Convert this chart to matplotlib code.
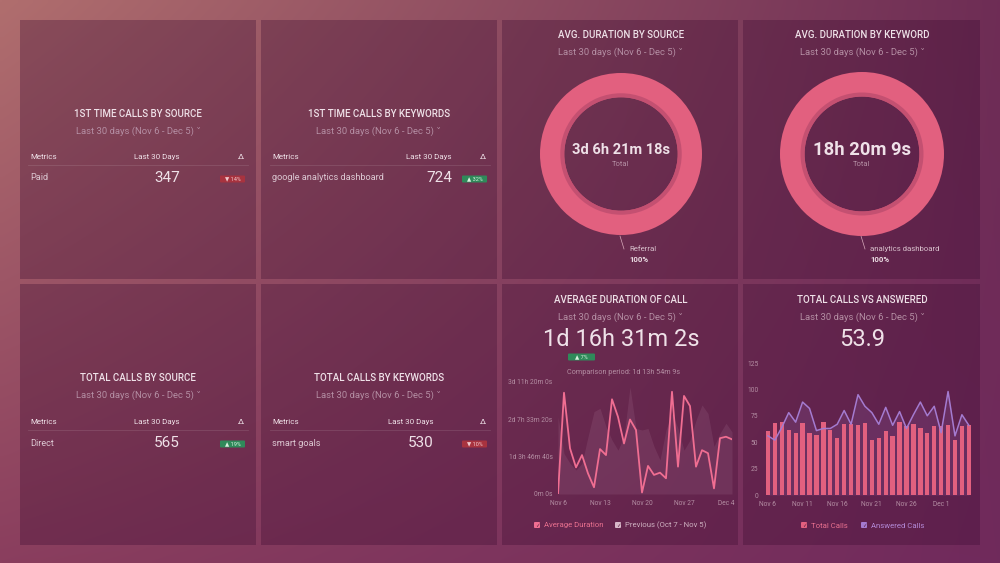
import numpy as np
import matplotlib.pyplot as plt
from matplotlib.patches import Rectangle, FancyBboxPatch

plt.rcParams['font.family'] = ['Roboto', 'DejaVu Sans']

W, H = 1000, 563

# ---- data ----
days = list(range(30))  # Nov 6 .. Dec 5

avg_duration_s = [0, 270600, 122000, 71000, 104000, 55000, 18000, 120000, 104000, 253000,
                  206000, 135000, 199000, 171000, 4000, 75000, 51000, 57000, 42000, 273000,
                  73000, 262000, 235000, 73000, 117000, 109000, 15000, 149000, 153000, 146000]
previous_s = [206000, 108000, 82000, 64000, 82000, 153000, 220000, 229000, 180000, 144000,
              117000, 153000, 286000, 175000, 171000, 175000, 127000, 91000, 171000, 215000,
              175000, 117000, 144000, 197000, 238000, 215000, 127000, 162000, 189000, 166000]
line_tick_pos = [0, 7, 14, 21, 28]
line_tick_labels = ['Nov 6', 'Nov 13', 'Nov 20', 'Nov 27', 'Dec 4']
dur_ticks = [0, 100000, 200000, 300000]
dur_tick_labels = ['0m 0s', '1d 3h 46m 40s', '2d 7h 33m 20s', '3d 11h 20m 0s']

total_calls = [61, 68, 69, 62, 59, 68, 59, 57, 69, 62, 54, 67, 67, 66, 68,
               52, 54, 61, 56, 69, 65, 67, 63, 59, 65, 65, 66, 52, 65, 66]
answered_calls = [56, 52, 64, 78, 69, 88, 82, 61, 63, 63, 67, 80, 67, 95, 84,
                  78, 67, 83, 66, 79, 63, 76, 88, 75, 84, 59, 98, 56, 76, 66]
bar_tick_pos = [0, 5, 10, 15, 20, 25]
bar_tick_labels = ['Nov 6', 'Nov 11', 'Nov 16', 'Nov 21', 'Nov 26', 'Dec 1']
calls_ticks = [0, 25, 50, 75, 100, 125]

donut_share = [100]

# colours
PINK = '#e2607f'
LINE_PINK = '#f06e92'
PURPLE = '#a47bd0'
TXT = '#efe1e8'
DIM = '#b48ea3'
GREEN = '#2f8a5a'
RED = '#a8333f'

fig = plt.figure(figsize=(10, 5.63), dpi=100)

# background gradient + panels in pixel coordinates
bg = fig.add_axes([0, 0, 1, 1])
tl, tr = np.array([176, 110, 110]), np.array([110, 45, 85])
bl, br = np.array([138, 62, 94]), np.array([112, 42, 92])
u = np.linspace(0, 1, 200)[None, :, None]
v = np.linspace(0, 1, 113)[:, None, None]
grad = (tl * (1 - u) * (1 - v) + tr * u * (1 - v) + bl * (1 - u) * v + br * u * v) / 255
bg.imshow(grad, extent=(0, W, H, 0), aspect='auto', interpolation='bilinear')
bg.set_xlim(0, W)
bg.set_ylim(H, 0)
bg.axis('off')

cols = [(20, 256), (261, 497), (502, 738), (743, 980)]
rows = [(20, 279), (284, 545)]
for y0, y1 in rows:
    for x0, x1 in cols:
        bg.add_patch(Rectangle((x0, y0), x1 - x0, y1 - y0, color='#3a0a30', alpha=0.32, lw=0))


def txt(x, y, s, size=5.5, color=TXT, ha='center', **kw):
    bg.text(x, y, s, fontsize=size, color=color, ha=ha, va='center', **kw)


def badge(x0, x1, y, s, color):
    bg.add_patch(FancyBboxPatch((x0, y - 3.5), x1 - x0, 7, boxstyle='round,pad=0,rounding_size=1',
                                color=color, lw=0))
    txt((x0 + x1) / 2, y, s, size=4, color='#d8f0df' if color == GREEN else '#f0c8cc')


def header(cx, y, title):
    txt(cx, y, title, size=7, weight='medium')
    txt(cx, y + 17, 'Last 30 days (Nov 6 - Dec 5) \u02c5', size=6.8, color=DIM)


def table(x_left, x_col, x_delta, y, name, value, delta, dcolor, col_w):
    txt(x_left, y, 'Metrics', size=5.8, ha='left')
    txt(x_col, y, 'Last 30 Days', size=5.8)
    txt(x_delta, y, '\u0394', size=6)
    bg.plot([x_left - 2, x_left + col_w], [y + 8, y + 8], color='#ffffff', alpha=0.12, lw=0.6)
    txt(x_left, y + 21, name, size=6.6, color='#dcc8d2', ha='left')
    txt(x_col + 10, y + 21, value, size=11)
    badge(x_delta - 21, x_delta + 4, y + 22, delta, dcolor)


# left panels: tables
header(138, 114, '1ST TIME CALLS BY SOURCE')
table(30, 157, 241, 157, 'Paid', '347', '\u25bc 14%', RED, 218)
header(379, 114, '1ST TIME CALLS BY KEYWORDS')
table(272, 429, 483, 157, 'google analytics dashboard', '724', '\u25b2 32%', GREEN, 218)
header(138, 378, 'TOTAL CALLS BY SOURCE')
table(30, 157, 241, 422, 'Direct', '565', '\u25b2 19%', GREEN, 218)
header(379, 378, 'TOTAL CALLS BY KEYWORDS')
table(272, 411, 483, 422, 'smart goals', '530', '\u25bc 10%', RED, 218)


def frac(x0, y0, x1, y1):
    return [x0 / W, 1 - y1 / H, (x1 - x0) / W, (y1 - y0) / H]


# donuts
def donut(cx, cy, r, title, center, center_size, label):
    header(cx, 35, title)
    ax = fig.add_axes(frac(cx - r, cy - r, cx + r, cy + r))
    ax.pie(donut_share, colors=[PINK], radius=1, startangle=90,
           wedgeprops=dict(width=0.3, lw=0))
    ax.pie(donut_share, colors=['#b84a6c'], radius=0.75, startangle=90,
           wedgeprops=dict(width=0.05, lw=0, alpha=0.7))
    ax.set_xlim(-1, 1)
    ax.set_ylim(-1, 1)
    ax.set_aspect('equal')
    ax.axis('off')
    txt(cx, cy - 4, center, size=center_size, weight='bold')
    txt(cx, cy + 10, 'Total', size=5.5, color=DIM)
    bg.plot([cx - 1, cx + 3], [cy + 82, cy + 95], color='#d8aabb', lw=0.5)
    txt(cx + 8, cy + 95, label, size=5.6, color='#d8c0cc', ha='left')
    txt(cx + 8, cy + 105, '100%', size=5.6, color='#ecdde4', ha='left', weight='bold')


donut(621, 154, 81, 'AVG. DURATION BY SOURCE', '3d 6h 21m 18s', 10.5, 'Referral')
donut(862, 154, 82, 'AVG. DURATION BY KEYWORD', '18h 20m 9s', 13.2, 'analytics dashboard')

# average duration line chart
header(621, 300, 'AVERAGE DURATION OF CALL')
txt(621, 340, '1d 16h 31m 2s', size=17)
badge(568, 595, 357, '\u25b2 7%', GREEN)
txt(624, 372, 'Comparison period: 1d 13h 54m 9s', size=5.2, color=DIM)

ax1 = fig.add_axes(frac(558, 381.7, 732, 494))
ax1.fill_between(days, previous_s, color='#c898b5', alpha=0.13, lw=0)
ax1.plot(days, avg_duration_s, color=LINE_PINK, lw=1.3)
ax1.set_xlim(0, 29)
ax1.set_ylim(0, 300000)
ax1.set_yticks(dur_ticks, dur_tick_labels)
ax1.set_xticks(line_tick_pos, line_tick_labels)
ax1.set_facecolor('none')
for s in ax1.spines.values():
    s.set_visible(False)
ax1.tick_params(length=0, labelsize=4.8, labelcolor=DIM, pad=4)

# legend for line chart
for x, c, lab, tc in [(537, LINE_PINK, 'Average Duration', '#e8708f'),
                      (618, '#d8b8c9', 'Previous (Oct 7 - Nov 5)', '#cdb0c0')]:
    bg.add_patch(FancyBboxPatch((x - 3, 522), 6, 6, boxstyle='round,pad=0,rounding_size=1', color=c, lw=0))
    bg.text(x, 525.3, '\u2713', fontsize=4, color='#5a2040', ha='center', va='center', family='DejaVu Sans')
    txt(x + 7, 525.5, lab, size=5.6, color=tc, ha='left')

# total calls vs answered
header(862, 300, 'TOTAL CALLS VS ANSWERED')
txt(862, 340, '53.9', size=17)

ax2 = fig.add_axes(frac(763.8, 363, 973, 495))
ax2.bar(days, total_calls, width=0.62, color=PINK, zorder=2)
ax2.fill_between(days, answered_calls, color=PURPLE, alpha=0.15, lw=0, zorder=1)
ax2.plot(days, answered_calls, color=PURPLE, lw=1.1, zorder=3)
ax2.set_xlim(-0.6, 29.6)
ax2.set_ylim(0, 125)
ax2.set_yticks(calls_ticks)
ax2.set_xticks(bar_tick_pos, bar_tick_labels)
ax2.set_facecolor('none')
for s in ax2.spines.values():
    s.set_visible(False)
ax2.tick_params(length=0, labelsize=4.8, labelcolor=DIM, pad=4)

for x, c, lab, tc in [(804, PINK, 'Total Calls', '#e8708f'),
                      (864, PURPLE, 'Answered Calls', '#b48ad8')]:
    bg.add_patch(FancyBboxPatch((x - 3, 522), 6, 6, boxstyle='round,pad=0,rounding_size=1', color=c, lw=0))
    bg.text(x, 525.3, '\u2713', fontsize=4, color='#5a2040', ha='center', va='center', family='DejaVu Sans')
    txt(x + 7, 525.5, lab, size=5.6, color=tc, ha='left')

fig.savefig('out.png', dpi=100)
